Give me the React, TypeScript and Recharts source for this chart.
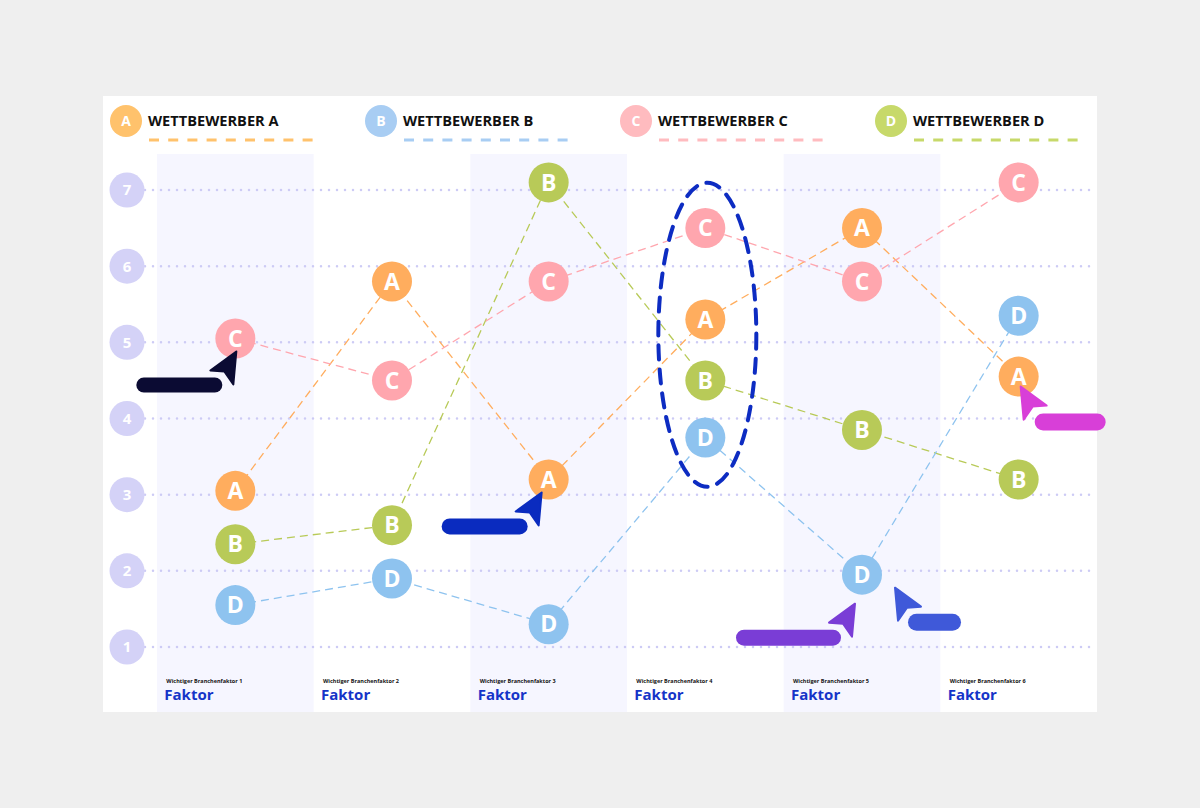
import { Line, LineChart, ReferenceArea, ReferenceDot, ReferenceLine, XAxis, YAxis } from "recharts";

const factors = [
  "Wichtiger Branchenfaktor 1",
  "Wichtiger Branchenfaktor 2",
  "Wichtiger Branchenfaktor 3",
  "Wichtiger Branchenfaktor 4",
  "Wichtiger Branchenfaktor 5",
  "Wichtiger Branchenfaktor 6",
];
const factorTitle = "Faktor";

const competitors = ["A", "B", "C", "D"];
const competitorNames = ["WETTBEWERBER A", "WETTBEWERBER B", "WETTBEWERBER C", "WETTBEWERBER D"];

const scoreA = [3.05, 5.8, 3.2, 5.3, 6.5, 4.55];
const scoreB = [2.35, 2.6, 7.1, 4.5, 3.85, 3.2];
const scoreC = [5.05, 4.5, 5.8, 6.5, 5.8, 7.1];
const scoreD = [1.55, 1.9, 1.3, 3.75, 1.95, 5.35];

const yTicks = [1, 2, 3, 4, 5, 6, 7];

const pointColor: Record<string, string> = { A: "#ffad5e", B: "#b8ca58", C: "#ffa6ae", D: "#8ec3ef" };
const legendColor = ["#ffc26c", "#a8cdf3", "#ffbbbf", "#c7d96a"];

const data = factors.map((f, i) => ({
  x: i,
  factor: f,
  A: scoreA[i],
  B: scoreB[i],
  C: scoreC[i],
  D: scoreD[i],
}));

// column highlighted by the dashed ellipse
const focusCol = 3;
const focusVals = [scoreA[focusCol], scoreB[focusCol], scoreC[focusCol], scoreD[focusCol]];
const focusMid = (Math.max(...focusVals) + Math.min(...focusVals)) / 2;

// pointer annotations, anchored on a data point
const pointers = [
  { key: "C", col: 0, color: "#0b0b33", tip: [1, 13], dir: 1, pill: [-99, 39, 86, 15] },
  { key: "A", col: 2, color: "#0a2bbf", tip: [-7, 13], dir: 1, pill: [-107, 39, 86, 16] },
  { key: "D", col: 4, color: "#7a3dd6", tip: [-7, 29], dir: 1, pill: [-126, 55, 105, 16] },
  { key: "D", col: 4, color: "#3f59d9", tip: [33, 13], dir: -1, pill: [46, 39, 53, 17] },
  { key: "A", col: 5, color: "#d83fd8", tip: [2, 10], dir: -1, pill: [16, 37, 71, 17] },
];

const FONT = "'Open Sans', sans-serif";

function cursor(tx: number, ty: number, dir: number) {
  const pts = [
    [tx, ty],
    [tx - 26 * dir, ty + 19],
    [tx - 12 * dir, ty + 20],
    [tx - 3 * dir, ty + 33],
  ];
  return pts.map((p) => p.join(",")).join(" ");
}

const YTick = (props: any) => {
  const { y, payload } = props;
  return (
    <g>
      <circle cx={24} cy={y} r={17.5} fill="#d4d2f7" />
      <text x={24} y={y} dy="0.36em" textAnchor="middle" fill="#fff" fontSize={15} fontWeight={700} fontFamily={FONT}>
        {payload.value}
      </text>
    </g>
  );
};

const XTick = (props: any) => {
  const { x, y, payload } = props;
  return (
    <g>
      <text x={x - 69} y={y - 29} fill="#111" fontSize={5.5} fontWeight={700} fontFamily={FONT}>
        {factors[payload.value]}
      </text>
      <text x={x - 71} y={y - 12} fill="#1534c8" fontSize={15} fontWeight={700} fontFamily={FONT}>
        {factorTitle}
      </text>
    </g>
  );
};

const makeDot = (key: string) => (props: any) => {
  const { cx, cy, index } = props;
  if (cx == null || cy == null) return <g key={`${key}-${index}`} />;
  return (
    <g key={`${key}-${index}`}>
      <circle cx={cx} cy={cy} r={20} fill={pointColor[key]} />
      <text x={cx} y={cy} dy="0.36em" textAnchor="middle" fill="#fff" fontSize={23} fontWeight={700} fontFamily={FONT}>
        {key}
      </text>
    </g>
  );
};

function Legend() {
  return (
    <svg width={994} height={56} style={{ position: "absolute", left: 0, top: 0 }}>
      {competitors.map((c, i) => {
        const ox = i * 255;
        return (
          <g key={c}>
            <circle cx={ox + 23} cy={25} r={16} fill={legendColor[i]} />
            <text x={ox + 23} y={25} dy="0.36em" textAnchor="middle" fill="#fff" fontSize={14} fontWeight={700} fontFamily={FONT}>
              {c}
            </text>
            <text x={ox + 45} y={25} dy="0.36em" fill="#111" fontSize={14.6} fontWeight={700} fontFamily={FONT}>
              {competitorNames[i]}
            </text>
            <line x1={ox + 46} x2={ox + 210} y1={44} y2={44} stroke={legendColor[i]} strokeWidth={3} strokeDasharray="10 9.2" />
          </g>
        );
      })}
    </svg>
  );
}

export default function App() {
  return (
    <div style={{ position: "absolute", left: 0, top: 0, width: 1200, height: 808, background: "#efefef" }}>
      <div style={{ position: "absolute", left: 103, top: 96, width: 994, height: 616, background: "#fff" }}>
        <Legend />
        <div style={{ position: "absolute", left: 0, top: 0 }}>
          <LineChart width={1006} height={616} data={data} margin={{ top: 58, right: 12, bottom: -1, left: 0 }}>
            {[0, 2, 4].map((i) => (
              <ReferenceArea key={i} x1={i - 0.5} x2={i + 0.5} fill="#f6f6ff" fillOpacity={1} stroke="none" ifOverflow="visible" />
            ))}
            {yTicks.map((t) => (
              <ReferenceLine
                key={`grid-${t}`}
                y={t}
                stroke="#cdcbf5"
                strokeWidth={2.5}
                strokeDasharray="0 8"
                strokeLinecap="round"
              />
            ))}
            <XAxis
              dataKey="x"
              type="number"
              domain={[-0.5766, 5.5]}
              ticks={[0, 1, 2, 3, 4, 5]}
              allowDataOverflow
              axisLine={false}
              tickLine={false}
              tickSize={0}
              tickMargin={0}
              height={1}
              tick={<XTick />}
              interval={0}
            />
            <YAxis
              type="number"
              domain={[0.1466, 7.4727]}
              ticks={yTicks}
              allowDataOverflow
              axisLine={false}
              tickLine={false}
              width={42}
              tick={<YTick />}
              interval={0}
            />
            {competitors.map((c) => (
              <Line
                key={`line-${c}`}
                type="linear"
                dataKey={c}
                stroke={pointColor[c]}
                strokeWidth={1.3}
                strokeDasharray="8 5"
                dot={false}
                activeDot={false}
                isAnimationActive={false}
              />
            ))}
            {competitors.map((c) => (
              <Line
                key={`dots-${c}`}
                type="linear"
                dataKey={c}
                stroke="none"
                dot={makeDot(c)}
                activeDot={false}
                isAnimationActive={false}
              />
            ))}
            <ReferenceDot
              x={focusCol}
              y={focusMid}
              ifOverflow="visible"
              shape={(p: any) => (
                <ellipse
                  cx={p.cx + 2}
                  cy={p.cy + 2}
                  rx={49}
                  ry={152}
                  fill="none"
                  stroke="#0d2cc2"
                  strokeWidth={4}
                  strokeDasharray="14 10"
                  strokeLinecap="round"
                />
              )}
            />
            {pointers.map((a, i) => (
              <ReferenceDot
                key={`ptr-${i}`}
                x={a.col}
                y={(data[a.col] as any)[a.key]}
                ifOverflow="visible"
                shape={(p: any) => (
                  <g>
                    <polygon
                      points={cursor(p.cx + a.tip[0], p.cy + a.tip[1], a.dir)}
                      fill={a.color}
                      stroke={a.color}
                      strokeWidth={2}
                      strokeLinejoin="round"
                    />
                    <rect
                      x={p.cx + a.pill[0]}
                      y={p.cy + a.pill[1]}
                      width={a.pill[2]}
                      height={a.pill[3]}
                      rx={a.pill[3] / 2}
                      fill={a.color}
                    />
                  </g>
                )}
              />
            ))}
          </LineChart>
        </div>
      </div>
    </div>
  );
}
